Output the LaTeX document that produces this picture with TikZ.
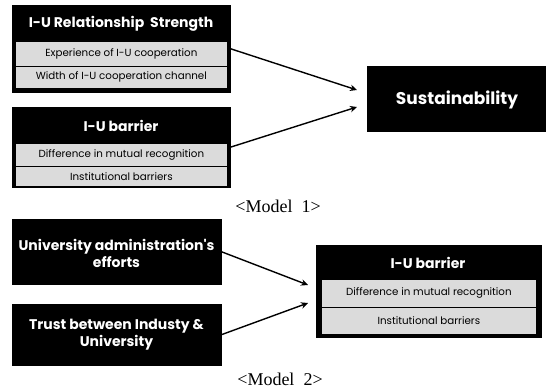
\documentclass[tikz,border=0pt]{standalone}
\usepackage{fontspec}
\setmainfont{Liberation Serif}
\newfontfamily\geo{Poppins}
\usetikzlibrary{arrows.meta}
\tikzset{
  blackbox/.style={fill=black, draw=black, inner sep=0pt, anchor=north west},
  grayrow/.style={fill=black!14, draw=black, line width=0.8pt, inner sep=0pt, anchor=north west, font=\geo\fontsize{10.3}{12}\selectfont},
  headtext/.style={text=white, font=\geo\bfseries\fontsize{14}{17}\selectfont, inner sep=0pt},
  bigtext/.style={text=white, font=\geo\bfseries\fontsize{17}{20}\selectfont, inner sep=0pt},
  capt/.style={font=\fontsize{18}{20}\selectfont, inner sep=0pt},
  link/.style={line width=1.4pt, -{Stealth[length=7pt,width=6.5pt]}},
}
\begin{document}
\begin{tikzpicture}[x=1pt,y=-1pt]
\useasboundingbox (0,0) rectangle (546,391);
% Model 1
\node[blackbox, minimum width=218pt, minimum height=87pt] (rs) at (12,5) {};
\node[headtext] (rsh) at (121,24) {I-U Relationship\ \ Strength};
\node[grayrow, minimum width=212pt, minimum height=24.5pt] (rs1) at (15,41) {Experience of I-U cooperation};
\node[grayrow, minimum width=212pt, minimum height=22pt] (rs2) at (15,65.5) {Width of I-U cooperation channel};

\node[blackbox, minimum width=218pt, minimum height=80pt] (ib) at (12,107) {};
\node[headtext] (ibh) at (121,126) {I-U barrier};
\node[grayrow, minimum width=212pt, minimum height=23pt] (ib1) at (15,143) {Difference in mutual recognition};
\node[grayrow, minimum width=212pt, minimum height=20pt] (ib2) at (15,166) {Institutional barriers};

\node[blackbox, minimum width=178pt, minimum height=65pt] (sus) at (367,66) {};
\node[bigtext] (sust) at (457,99.5) {Sustainability};

\coordinate (t1) at (357,90);
\coordinate (t2) at (357,107);
\draw[link] (rs.east) -- (t1);
\draw[link] (ib.east) -- (t2);

\node[capt] (c1) at (278,206) {<Model\ \ 1>};

% Model 2
\node[blackbox, minimum width=209pt, minimum height=65pt] (ua) at (12,219) {};
\node[headtext, align=center] (uat) at (116.5,253) {University administration's\\efforts};
\node[blackbox, minimum width=209pt, minimum height=61pt] (tr) at (12,304) {};
\node[headtext, align=center] (trt) at (116.5,335) {Trust between Industy \&\\University};

\node[blackbox, minimum width=225pt, minimum height=92pt] (ib2b) at (316,245) {};
\node[headtext] (ib2h) at (428,263) {I-U barrier};
\node[grayrow, minimum width=215pt, minimum height=28pt] (ib21) at (321,279) {Difference in mutual recognition};
\node[grayrow, minimum width=215pt, minimum height=27pt] (ib22) at (321,307) {Institutional barriers};

\coordinate (t3) at (308,285);
\coordinate (t4) at (308,303);
\draw[link] (ua.east) -- (t3);
\draw[link] (tr.east) -- (t4);

\node[capt] (c2) at (280,379) {<Model\ \ 2>};
\end{tikzpicture}
\end{document}
